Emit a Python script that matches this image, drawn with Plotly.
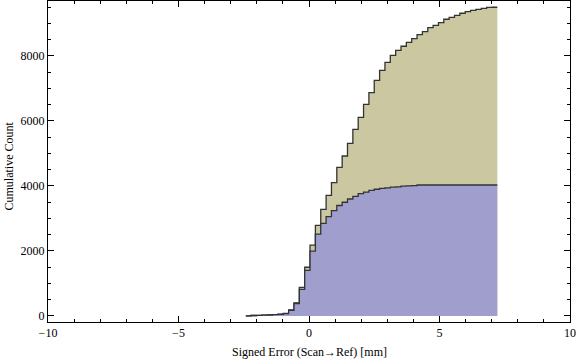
import plotly.graph_objects as go

# Bin edges of the cumulative histograms (Signed Error, mm)
bin_edges = [-2.42, -2.215, -2.01, -1.805, -1.60, -1.395, -1.19, -0.985, -0.78, -0.575,
             -0.37, -0.165, 0.04, 0.245, 0.45, 0.655, 0.86, 1.065, 1.27, 1.475,
             1.68, 1.885, 2.09, 2.295, 2.50, 2.705, 2.91, 3.115, 3.32, 3.525,
             3.73, 3.935, 4.14, 4.345, 4.55, 4.755, 4.96, 5.165, 5.37, 5.575,
             5.78, 5.985, 6.19, 6.395, 6.60, 6.805, 7.01, 7.215]

# Cumulative counts per bin (tan = total, blue = subset)
total_cum = [5, 15, 20, 25, 30, 45, 55, 80, 185, 400,
             880, 1500, 2180, 2790, 3282, 3713, 4103, 4574, 4923, 5313,
             5744, 6113, 6513, 6872, 7251, 7560, 7805, 8020, 8175, 8300,
             8420, 8535, 8660, 8750, 8870, 8945, 9025, 9130, 9190, 9250,
             9315, 9365, 9405, 9435, 9465, 9495, 9500]
subset_cum = [5, 15, 20, 25, 30, 42, 52, 75, 170, 385,
              820, 1405, 1995, 2520, 2850, 3060, 3245, 3400, 3500, 3600,
              3680, 3762, 3812, 3862, 3900, 3925, 3940, 3965, 3975, 3995,
              4005, 4010, 4030, 4030, 4030, 4030, 4030, 4030, 4030, 4030,
              4030, 4030, 4030, 4030, 4030, 4030, 4030]

x_ticks = [-10, -5, 0, 5, 10]
y_ticks = [0, 2000, 4000, 6000, 8000]

TAN = "#CBC7A1"
BLUE = "#A09ECC"
EDGE = "#333333"
FONT = "Liberation Serif"

fig = go.Figure()
for vals, col in [(total_cum, TAN), (subset_cum, BLUE)]:
    fig.add_trace(go.Scatter(
        x=bin_edges, y=vals + [vals[-1]],
        mode="lines", line=dict(shape="hv", color=EDGE, width=1.3),
        fill="tozeroy", fillcolor=col, hoverinfo="skip", showlegend=False))

axis_common = dict(showgrid=False, zeroline=False, showline=True, linecolor="black",
                   linewidth=1, mirror="allticks", ticks="inside", tickcolor="black",
                   automargin=False, ticklabeloverflow="allow",
                   tickfont=dict(family=FONT, size=12, color="black"))

fig.update_xaxes(range=[-10, 10], tickvals=x_ticks, ticklen=6,
                 minor=dict(dtick=1, ticklen=3, ticks="inside", tickcolor="black"),
                 **axis_common)
fig.update_yaxes(range=[-185, 9692], tickvals=y_ticks, ticklen=6,
                 minor=dict(dtick=500, ticklen=3, ticks="inside", tickcolor="black"),
                 **axis_common)

fig.add_annotation(text="Signed Error (Scan→Ref) [mm]", xref="paper", yref="paper",
                   x=0.5, y=0.0, yshift=-30, xanchor="center", yanchor="middle",
                   showarrow=False, font=dict(family=FONT, size=12, color="black"))
fig.add_annotation(text="Cumulative Count", xref="paper", yref="paper",
                   x=0.0, y=0.5, xshift=-40, yshift=-5, xanchor="center", yanchor="middle",
                   textangle=-90, showarrow=False,
                   font=dict(family=FONT, size=12, color="black"))

fig.update_layout(width=576, height=362, margin=dict(l=48, r=6, t=1, b=40),
                  plot_bgcolor="white", paper_bgcolor="white")

fig.write_html("out.html", config={"displayModeBar": False},
               post_script="document.body.style.margin='0px';document.body.style.padding='0px';")
